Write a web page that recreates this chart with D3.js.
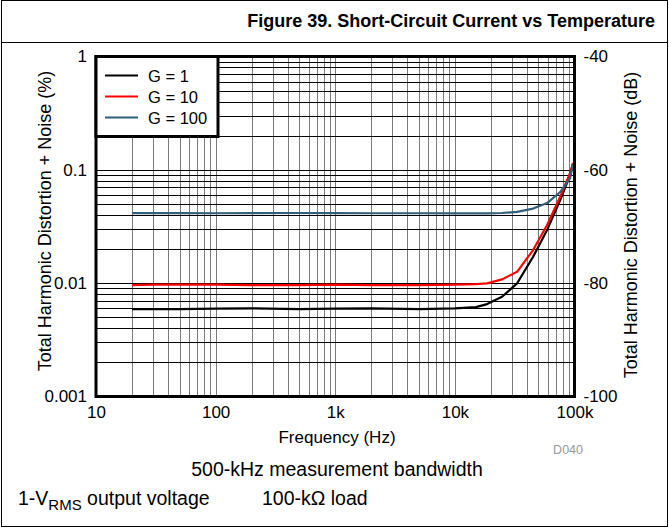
<!DOCTYPE html>
<html><head><meta charset="utf-8">
<script src="https://cdn.jsdelivr.net/npm/d3@7"></script>
<style>
html,body{margin:0;padding:0;background:#fff;}
svg{display:block;font-family:"Liberation Sans",Arial,sans-serif;}
</style></head>
<body>
<svg id="c" width="669" height="529"></svg>
<script>
const title = "Figure 39. Short-Circuit Current vs Temperature";
const xTicks = [10, 100, 1000, 10000, 100000];
const xTickLabels = ["10", "100", "1k", "10k", "100k"];
const yTicks = [1, 0.1, 0.01, 0.001];
const yTickLabels = ["1", "0.1", "0.01", "0.001"];
const dbTicks = [-40, -60, -80, -100];
const seriesNames = ["G = 1", "G = 10", "G = 100"];
const seriesColors = ["#000000", "#ff0000", "#2f5f7a"];
const freq = [20, 30, 50, 100, 200, 500, 1000, 2000, 5000, 10000, 15000, 18600, 24800, 33100, 45100, 59000, 75900, 91900, 97300];
const g1 = [0.0059, 0.0059, 0.0059, 0.00595, 0.006, 0.0059, 0.00595, 0.006, 0.0059, 0.006, 0.00615, 0.00654, 0.00759, 0.00996, 0.0171, 0.0294, 0.0541, 0.090, 0.115];
const g10 = [0.0096, 0.0097, 0.0097, 0.0097, 0.0096, 0.0096, 0.0097, 0.0096, 0.0096, 0.0097, 0.0098, 0.00996, 0.0108, 0.0126, 0.0196, 0.0326, 0.0579, 0.0937, 0.115];
const g100 = [0.0415, 0.0415, 0.0415, 0.0414, 0.0415, 0.0416, 0.0415, 0.0414, 0.0414, 0.0413, 0.0413, 0.0413, 0.0416, 0.0425, 0.0455, 0.0509, 0.0637, 0.0847, 0.113];
const seriesData = [g1, g10, g100];

const svg = d3.select("#c");
const L = 96, R = 574.5, T = 56.5, B = 396.5;
const x = d3.scaleLog().domain([10, 100000]).range([L, R]);
const y = d3.scaleLog().domain([0.001, 1]).range([B, T]);
const yDb = d3.scaleLinear().domain([-100, -40]).range([B, T]);

// outer frame
svg.append("rect").attr("x", 1.5).attr("y", 0.5).attr("width", 666).attr("height", 526)
  .attr("fill", "none").attr("stroke", "#000").attr("stroke-width", 1);
svg.append("line").attr("x1", 1).attr("x2", 668).attr("y1", 42.5).attr("y2", 42.5)
  .attr("stroke", "#000").attr("stroke-width", 1);

svg.append("text").attr("x", 655).attr("y", 27).attr("text-anchor", "end")
  .attr("font-size", 18).attr("font-weight", "bold").text(title);

// grid
const g = svg.append("g");
const xMinor = [];
for (let d = 10; d < 100000; d *= 10) for (let k = 2; k <= 9; k++) xMinor.push(d * k);
const yMinor = [];
for (let d = 0.001; d < 0.9; d *= 10) for (let k = 2; k <= 9; k++) yMinor.push(d * k);
g.selectAll(".vx").data(xMinor.concat(xTicks.slice(1, -1))).enter().append("line")
  .attr("x1", d => Math.round(x(d)) + 0.5).attr("x2", d => Math.round(x(d)) + 0.5)
  .attr("y1", T).attr("y2", B).attr("stroke", "#7a7a7a").attr("stroke-width", 1);
g.selectAll(".hy").data(yMinor.concat(yTicks.slice(1, -1))).enter().append("line")
  .attr("y1", d => Math.round(y(d)) + 0.5).attr("y2", d => Math.round(y(d)) + 0.5)
  .attr("x1", L).attr("x2", R).attr("stroke", "#000").attr("stroke-width", 1);

// series
const line = d3.line().x(d => x(d[0])).y(d => y(d[1]));
seriesData.forEach((s, i) => {
  svg.append("path").datum(freq.map((f, j) => [f, s[j]]))
    .attr("d", line).attr("fill", "none").attr("stroke", seriesColors[i])
    .attr("stroke-width", 2.2).attr("stroke-linejoin", "round");
});

// frame
svg.append("rect").attr("x", L).attr("y", T).attr("width", R - L).attr("height", B - T)
  .attr("fill", "none").attr("stroke", "#000").attr("stroke-width", 3);

// legend
const lg = svg.append("g");
lg.append("rect").attr("x", L).attr("y", T).attr("width", 122).attr("height", 80)
  .attr("fill", "#fff").attr("stroke", "#000").attr("stroke-width", 3);
seriesNames.forEach((n, i) => {
  const yy = 75.5 + i * 21;
  lg.append("line").attr("x1", 105).attr("x2", 138).attr("y1", yy).attr("y2", yy)
    .attr("stroke", seriesColors[i]).attr("stroke-width", 2.2);
  lg.append("text").attr("x", 148).attr("y", yy + 6).attr("font-size", 16.5).text(n);
});

// axes labels
const fs = 17;
const yAxis = d3.axisLeft(y).tickValues(yTicks).tickFormat((d, i) => yTickLabels[i]).tickSize(0).tickPadding(9);
const ya = svg.append("g").attr("transform", `translate(${L},0)`).call(yAxis);
const yDbAxis = d3.axisRight(yDb).tickValues(dbTicks).tickFormat(d => String(d)).tickSize(0).tickPadding(9);
const yb = svg.append("g").attr("transform", `translate(${R},0)`).call(yDbAxis);
const xAxis = d3.axisBottom(x).tickValues(xTicks).tickFormat((d, i) => xTickLabels[i]).tickSize(0).tickPadding(9);
const xa = svg.append("g").attr("transform", `translate(0,${B})`).call(xAxis);
[ya, yb, xa].forEach(a => {
  a.select(".domain").remove();
  a.selectAll("text").attr("font-size", fs).attr("fill", "#000")
    .attr("font-family", "'Liberation Sans',Arial,sans-serif");
});

svg.append("text").attr("x", 337).attr("y", 443).attr("text-anchor", "middle")
  .attr("font-size", 17).text("Frequency (Hz)");
svg.append("text").attr("x", 583).attr("y", 454).attr("text-anchor", "end")
  .attr("font-size", 12.5).attr("fill", "#999").text("D040");

svg.append("text").attr("transform", `translate(51,221) rotate(-90)`)
  .attr("text-anchor", "middle").attr("font-size", 18).text("Total Harmonic Distortion + Noise (%)");
svg.append("text").attr("transform", `translate(637,225) rotate(-90)`)
  .attr("text-anchor", "middle").attr("font-size", 18).text("Total Harmonic Distortion + Noise (dB)");

svg.append("text").attr("x", 337).attr("y", 476).attr("text-anchor", "middle")
  .attr("font-size", 19.5).text("500-kHz measurement bandwidth");
const t1 = svg.append("text").attr("x", 18).attr("y", 505).attr("font-size", 19.5);
t1.append("tspan").text("1-V");
t1.append("tspan").attr("font-size", 15).attr("dy", 5).text("RMS");
t1.append("tspan").attr("dy", -5).text(" output voltage");
svg.append("text").attr("x", 262).attr("y", 505).attr("font-size", 19.5).text("100-k\u03A9 load");
</script>
</body></html>
